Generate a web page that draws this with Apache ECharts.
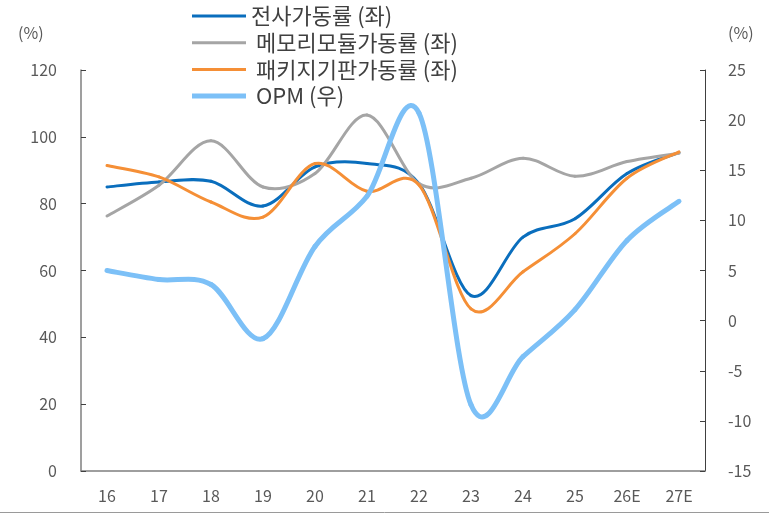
<!DOCTYPE html>
<html>
<head>
<meta charset="utf-8">
<script src="https://cdn.jsdelivr.net/npm/echarts@6/dist/echarts.min.js"></script>
<style>
  html, body { margin: 0; padding: 0; background: #fff; }
  #chart { width: 769px; height: 514px; }
</style>
</head>
<body>
<div id="chart"></div>
<script>
const years = ['16', '17', '18', '19', '20', '21', '22', '23', '24', '25', '26E', '27E']
const totalUtil = [85, 86.5, 86.7, 79.3, 91, 92, 86, 52.5, 70, 75.5, 89, 95.3]
const memoryUtil = [76.3, 85.5, 98.8, 85, 89, 106.5, 86, 87.6, 93.6, 88.2, 92.6, 95.1]
const substrateUtil = [91.4, 88, 80.5, 76, 92, 83.7, 85.6, 48.5, 59.6, 71, 87.6, 95.5]
const opm = [5.0, 4.1, 3.6, -1.8, 7.4, 12.4, 20.7, -8.4, -3.6, 1.1, 8, 11.9]

const FONT = '"Noto Sans CJK KR", "Noto Sans", sans-serif'
const labelColor = '#595959'

const chart = echarts.init(document.getElementById('chart'))

// excel 스타일 곡선 (catmull-rom), 구간마다 하나씩 그림
const smoothLine = (name, arr, color, width, yAxisIndex) => ({
  name,
  type: 'custom',
  yAxisIndex,
  data: arr.map((v, i) => [i, v]),
  encode: { x: 0, y: 1 },
  itemStyle: { color },
  renderItem: (params, api) => {
    const i = params.dataIndex
    if (i >= arr.length - 1) return null
    const pt = (k) => {
      const j = Math.max(0, Math.min(arr.length - 1, k))
      return api.coord([j, arr[j]])
    }
    const p0 = pt(i - 1), p1 = pt(i), p2 = pt(i + 1), p3 = pt(i + 2)
    return {
      type: 'bezierCurve',
      shape: {
        x1: p1[0], y1: p1[1],
        x2: p2[0], y2: p2[1],
        cpx1: p1[0] + (p2[0] - p0[0]) / 6,
        cpy1: p1[1] + (p2[1] - p0[1]) / 6,
        cpx2: p2[0] - (p3[0] - p1[0]) / 6,
        cpy2: p2[1] - (p3[1] - p1[1]) / 6
      },
      style: { stroke: color, lineWidth: width, fill: null, lineCap: 'round' }
    }
  }
})

const thinIcon = 'path://M0,0L0,0M0,1L54,1L54,4L0,4ZM54,5L54,5'
const thickIcon = 'path://M0,0L54,0L54,5L0,5Z'

chart.setOption({
  animation: false,
  textStyle: { fontFamily: FONT },
  legend: {
    orient: 'vertical',
    left: 192,
    top: 5,
    padding: 0,
    itemWidth: 54,
    itemHeight: 5,
    itemGap: 4.7,
    textStyle: { fontSize: 22, lineHeight: 22, color: '#404040', fontFamily: FONT },
    data: [
      { name: '전사가동률 (좌)', icon: thinIcon },
      { name: ' 메모리모듈가동률 (좌)', icon: thinIcon },
      { name: ' 패키지기판가동률 (좌)', icon: thinIcon },
      { name: ' OPM (우)', icon: thickIcon }
    ]
  },
  grid: { left: 81, right: 64, top: 70, bottom: 43, containLabel: false },
  xAxis: {
    type: 'category',
    data: years,
    boundaryGap: true,
    axisLine: { lineStyle: { color: '#7f7f7f', width: 1.5 } },
    axisTick: { inside: true, length: 5, lineStyle: { color: '#404040' } },
    axisLabel: { fontSize: 16, color: labelColor, margin: 17, fontFamily: FONT },
    splitLine: { show: false }
  },
  yAxis: [
    {
      type: 'value',
      min: 0,
      max: 120,
      interval: 20,
      axisLine: { show: true, lineStyle: { color: '#7f7f7f', width: 1.5 } },
      axisTick: { show: true, inside: true, length: 5, lineStyle: { color: '#404040' } },
      axisLabel: { fontSize: 16, color: labelColor, margin: 24, fontFamily: FONT },
      splitLine: { show: false }
    },
    {
      type: 'value',
      min: -15,
      max: 25,
      interval: 5,
      position: 'right',
      axisLine: { show: true, lineStyle: { color: '#404040', width: 1 } },
      axisTick: { show: true, inside: true, length: 5, lineStyle: { color: '#404040' } },
      axisLabel: { fontSize: 16, color: labelColor, margin: 23, fontFamily: FONT },
      splitLine: { show: false }
    }
  ],
  graphic: [
    { type: 'text', left: 18, top: 25, style: { text: '(%)', fontSize: 16, fill: labelColor, fontFamily: FONT } },
    { type: 'text', left: 728, top: 25, style: { text: '(%)', fontSize: 16, fill: labelColor, fontFamily: FONT } },
    { type: 'line', shape: { x1: 0, y1: 512.5, x2: 769, y2: 512.5 }, style: { stroke: '#9a9a9a', lineWidth: 1 } }
  ],
  series: [
    smoothLine('전사가동률 (좌)', totalUtil, '#0a6ebd', 3, 0),
    smoothLine(' 메모리모듈가동률 (좌)', memoryUtil, '#a5a5a5', 3, 0),
    smoothLine(' 패키지기판가동률 (좌)', substrateUtil, '#f58f36', 3, 0),
    smoothLine(' OPM (우)', opm, '#7cc0f7', 5, 1)
  ]
})
</script>
</body>
</html>
